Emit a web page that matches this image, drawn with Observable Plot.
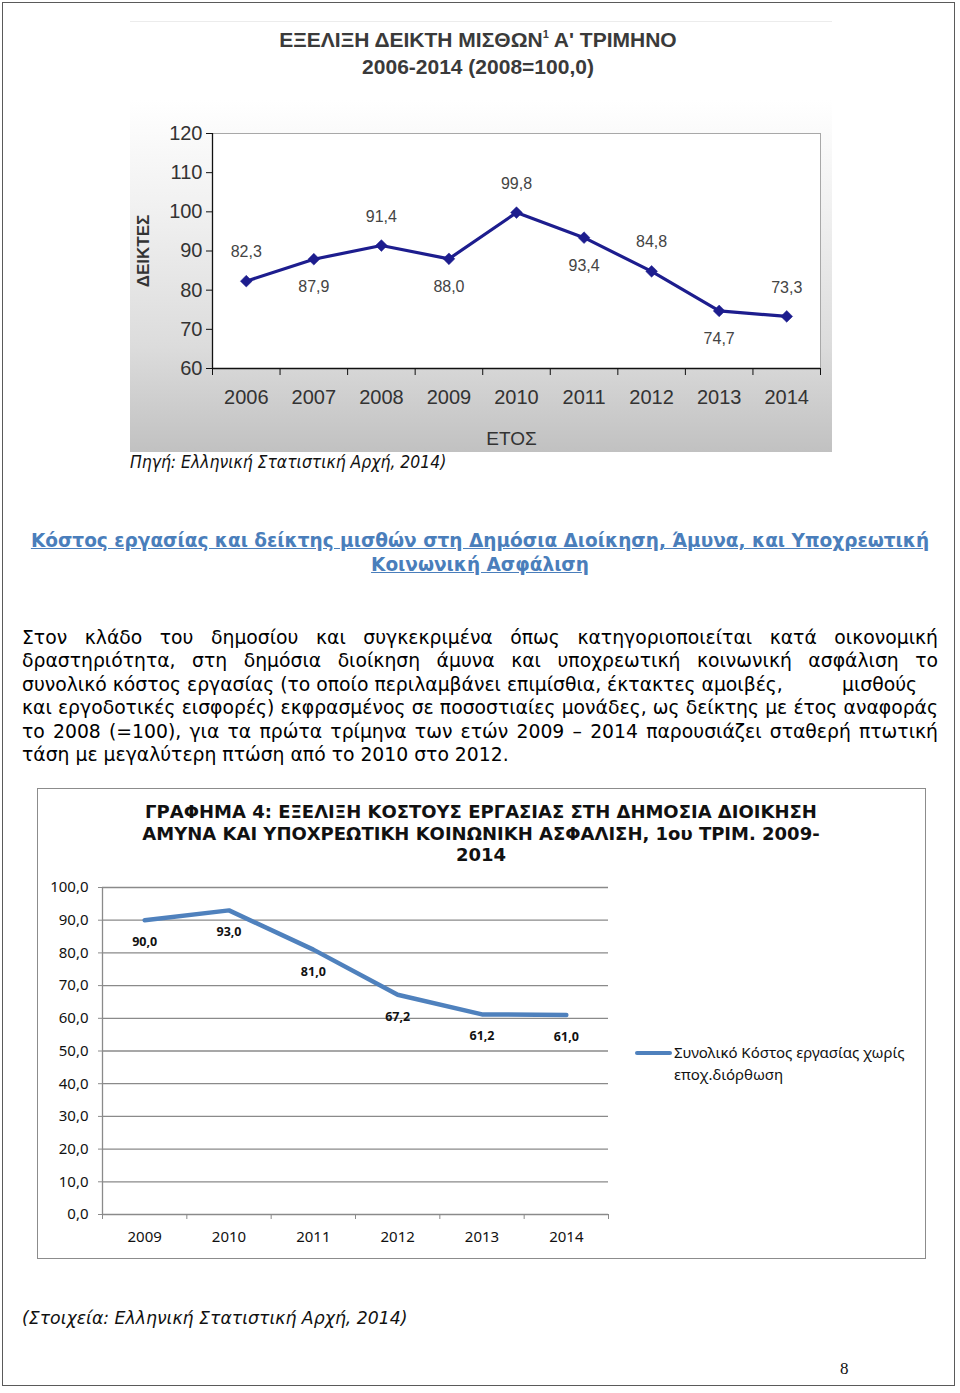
<!DOCTYPE html>
<html>
<head>
<meta charset="utf-8">
<script src="https://cdn.jsdelivr.net/npm/d3@7"></script>
<script src="https://cdn.jsdelivr.net/npm/@observablehq/plot@0.6"></script>
<style>
  html, body { margin: 0; padding: 0; background: #fff; }
  #page { position: relative; width: 960px; height: 1393px; overflow: hidden; background: #fff; }
  .abs { position: absolute; }
  #pageBorder { left: 2px; top: 2px; width: 953px; height: 1384px; border: 1.5px solid #5a5a5a; box-sizing: border-box; }
  #topLine { left: 130px; top: 21px; width: 702px; height: 0; border-top: 1px solid #ececec; }
  .t1 { left: 0; width: 956px; text-align: center; font-family: "Liberation Sans", Arial, sans-serif; font-weight: bold; color: #3a3a3a; font-size: 21px; line-height: 24px; white-space: nowrap; }
  .t1 sup { font-size: 11px; line-height: 0; vertical-align: 0; position: relative; top: -9px; }
  #topBox { left: 130px; top: 100px; width: 702px; height: 352px;
    background: linear-gradient(to bottom, #ffffff 0%, #f1f1f1 30%, #dcdcdc 70%, #c1c1c1 100%); }
  #src1 { left: 130px; top: 451px; font-family: "DejaVu Sans Condensed", "DejaVu Sans", sans-serif; font-style: italic; font-size: 17.4px; color: #111; line-height: 22px; white-space: nowrap; }
  #heading { left: 0; top: 529px; width: 960px; text-align: center; font-family: "DejaVu Sans", Verdana, sans-serif; font-weight: bold; font-size: 18.5px; line-height: 24px; color: #4a7ebb; text-decoration: underline; white-space: nowrap; }
  #para { left: 22px; top: 626px; width: 916px; font-family: "DejaVu Sans", Verdana, sans-serif; font-size: 18.8px; line-height: 23.4px; color: #000; }
  #para .j { text-align: justify; text-align-last: justify; white-space: nowrap; }
  #para .l { text-align: left; white-space: nowrap; }
  #box2 { left: 37px; top: 788px; width: 889px; height: 471px; border: 1.5px solid #8c8c8c; box-sizing: border-box; }
  #t2 { left: 0; top: 801px; width: 962px; text-align: center; font-family: "DejaVu Sans", Verdana, sans-serif; font-weight: bold; font-size: 18px; line-height: 21.5px; color: #111; white-space: nowrap; }
  #chart2 { left: 37px; top: 860px; }
  #legend { left: 635px; top: 1041px; font-family: "Noto Sans", "Open Sans", sans-serif; font-size: 15px; line-height: 22px; color: #111; }
  #legend .sw { position: absolute; left: 0; top: 10px; width: 37px; height: 4px; background: #4f81bd; border-radius: 2px; }
  #legend .tx { position: absolute; left: 39px; top: 0; white-space: nowrap; }
  #src2 { left: 22px; top: 1307px; font-family: "DejaVu Sans", Verdana, sans-serif; font-style: italic; font-size: 17.3px; line-height: 22px; color: #111; white-space: nowrap; }
  #pnum { left: 840px; top: 1359px; font-family: "Liberation Serif", "DejaVu Serif", serif; font-size: 17px; color: #111; }
</style>
</head>
<body>
<div id="page">
  <div id="pageBorder" class="abs"></div>
  <div id="topLine" class="abs"></div>
  <div class="t1 abs" style="top:28px;">ΕΞΕΛΙΞΗ ΔΕΙΚΤΗ ΜΙΣΘΩΝ<sup>1</sup> Α' ΤΡΙΜΗΝΟ</div>
  <div class="t1 abs" style="top:55px;">2006-2014 (2008=100,0)</div>
  <div id="topBox" class="abs"></div>
  <div id="chart1" class="abs" style="left:130px;top:100px;"></div>
  <div id="src1" class="abs">Πηγή: Ελληνική Στατιστική Αρχή, 2014)</div>
  <div id="heading" class="abs">Κόστος εργασίας και δείκτης μισθών στη Δημόσια Διοίκηση, Άμυνα, και Υποχρεωτική<br>Κοινωνική Ασφάλιση</div>
  <div id="para" class="abs">
    <div class="j">Στον κλάδο του δημοσίου και συγκεκριμένα όπως κατηγοριοποιείται κατά οικονομική</div>
    <div class="j">δραστηριότητα, στη δημόσια διοίκηση άμυνα και υποχρεωτική κοινωνική ασφάλιση το</div>
    <div class="l" style="position:relative;">συνολικό κόστος εργασίας (το οποίο περιλαμβάνει επιμίσθια, έκτακτες αμοιβές,<span style="position:absolute;left:820px;top:0;">μισθούς</span></div>
    <div class="j">και εργοδοτικές εισφορές) εκφρασμένος σε ποσοστιαίες μονάδες, ως δείκτης με έτος αναφοράς</div>
    <div class="j">το 2008 (=100), για τα πρώτα τρίμηνα των ετών 2009 – 2014 παρουσιάζει σταθερή πτωτική</div>
    <div class="l">τάση με μεγαλύτερη πτώση από το 2010 στο 2012.</div>
  </div>
  <div id="box2" class="abs"></div>
  <div id="t2" class="abs">ΓΡΑΦΗΜΑ 4: ΕΞΕΛΙΞΗ ΚΟΣΤΟΥΣ ΕΡΓΑΣΙΑΣ ΣΤΗ ΔΗΜΟΣΙΑ ΔΙΟΙΚΗΣΗ<br>ΑΜΥΝΑ ΚΑΙ ΥΠΟΧΡΕΩΤΙΚΗ ΚΟΙΝΩΝΙΚΗ ΑΣΦΑΛΙΣΗ, 1ου ΤΡΙΜ. 2009-<br>2014</div>
  <div id="chart2" class="abs"></div>
  <div id="legend" class="abs"><div class="sw"></div><div class="tx">Συνολικό Κόστος εργασίας χωρίς<br>εποχ.διόρθωση</div></div>
  <div id="src2" class="abs">(Στοιχεία: Ελληνική Στατιστική Αρχή, 2014)</div>
  <div id="pnum" class="abs">8</div>
</div>
<script>
// ---------- Chart 1 data: wage index, 1st quarter, 2006-2014 (2008=100,0)
const years1 = [2006, 2007, 2008, 2009, 2010, 2011, 2012, 2013, 2014];
const index1 = [82.3, 87.9, 91.4, 88.0, 99.8, 93.4, 84.8, 74.7, 73.3];
const labels1 = ["82,3", "87,9", "91,4", "88,0", "99,8", "93,4", "84,8", "74,7", "73,3"];
const labelAbove1 = [true, false, true, false, true, false, true, false, true];
const yTicks1 = [60, 70, 80, 90, 100, 110, 120];
const yTitle1 = "ΔΕΙΚΤΕΣ";
const xTitle1 = "ΕΤΟΣ";

// ---------- Chart 2 data: total labour cost, 1st quarter, 2009-2014
const years2 = [2009, 2010, 2011, 2012, 2013, 2014];
const cost2 = [90.0, 93.0, 81.0, 67.2, 61.2, 61.0];
const labels2 = ["90,0", "93,0", "81,0", "67,2", "61,2", "61,0"];
const yTicks2 = [0, 10, 20, 30, 40, 50, 60, 70, 80, 90, 100];

const rows1 = years1.map((y, i) => ({year: y, value: index1[i], label: labels1[i], above: labelAbove1[i]}));
const rows2 = years2.map((y, i) => ({year: y, value: cost2[i], label: labels2[i]}));
const bounds1 = d3.range(years1.length + 1).map(i => years1[0] - 0.5 + i);
const bounds2 = d3.range(years2.length + 1).map(i => years2[0] - 0.5 + i);

const navy = "#1d1d8e";
const chart1 = Plot.plot({
  width: 702, height: 352,
  marginLeft: 82, marginRight: 12, marginTop: 33, marginBottom: 84,
  x: {type: "linear", domain: [bounds1[0], bounds1[bounds1.length - 1]]},
  y: {domain: [60, 120]},
  style: {background: "transparent", fontFamily: "'Liberation Sans', Arial, sans-serif", color: "#333"},
  marks: [
    Plot.frame({fill: "white", stroke: "#a8a8a8"}),
    Plot.axisY({ticks: yTicks1, tickSize: 6, tickPadding: 4, fontSize: 20, stroke: "#111", label: null}),
    Plot.axisX({ticks: years1, tickSize: 0, tickPadding: 21, fontSize: 20, tickFormat: d => String(d), label: null}),
    Plot.axisX({ticks: bounds1, tickSize: 7, tickFormat: () => "", stroke: "#111", label: null}),
    Plot.ruleX([bounds1[0]], {stroke: "#111", strokeWidth: 1.3}),
    Plot.ruleY([60], {stroke: "#111", strokeWidth: 1.3}),
    Plot.text([yTitle1], {frameAnchor: "left", dx: -69, rotate: -90, textAnchor: "middle", lineAnchor: "middle", fontSize: 17, fontWeight: "bold", fill: "#333"}),
    Plot.text([xTitle1], {frameAnchor: "bottom", dy: 70, dx: -5, textAnchor: "middle", lineAnchor: "middle", fontSize: 19, fill: "#333"}),
    Plot.line(rows1, {x: "year", y: "value", stroke: navy, strokeWidth: 3.2}),
    Plot.dot(rows1, {x: "year", y: "value", symbol: "diamond2", r: 5.3, fill: navy, stroke: navy, strokeWidth: 0.5}),
    Plot.text(rows1.filter(d => d.above), {x: "year", y: "value", text: "label", dy: -29, fontSize: 16, fill: "#444"}),
    Plot.text(rows1.filter(d => !d.above), {x: "year", y: "value", text: "label", dy: 28, fontSize: 16, fill: "#444"})
  ]
});
document.getElementById("chart1").appendChild(chart1);

const steel = "#4f81bd";
const chart2 = Plot.plot({
  width: 600, height: 395,
  marginLeft: 65, marginRight: 29, marginTop: 27, marginBottom: 41,
  x: {type: "linear", domain: [bounds2[0], bounds2[bounds2.length - 1]]},
  y: {domain: [0, 100]},
  style: {background: "transparent", fontFamily: "'Noto Sans', 'Open Sans', sans-serif", color: "#111"},
  marks: [
    Plot.ruleY(yTicks2, {stroke: "#8a8a8a", strokeWidth: 1.3}),
    Plot.ruleX([bounds2[0]], {stroke: "#8a8a8a", strokeWidth: 1.3}),
    Plot.axisY({ticks: yTicks2, tickSize: 4, tickPadding: 10, fontSize: 15, stroke: "#8a8a8a", tickFormat: d => d.toFixed(1).replace(".", ","), label: null}),
    Plot.axisX({ticks: years2, tickSize: 0, tickPadding: 17, fontSize: 15, tickFormat: d => String(d), label: null}),
    Plot.axisX({ticks: bounds2, tickSize: 5, tickFormat: () => "", stroke: "#8a8a8a", label: null}),
    Plot.line(rows2, {x: "year", y: "value", stroke: steel, strokeWidth: 4.5, strokeLinejoin: "miter"}),
    Plot.text(rows2, {x: "year", y: "value", text: "label", dy: 22, fontSize: 12.5, fontWeight: "bold", fill: "#111"})
  ]
});
document.getElementById("chart2").appendChild(chart2);
</script>
</body>
</html>
